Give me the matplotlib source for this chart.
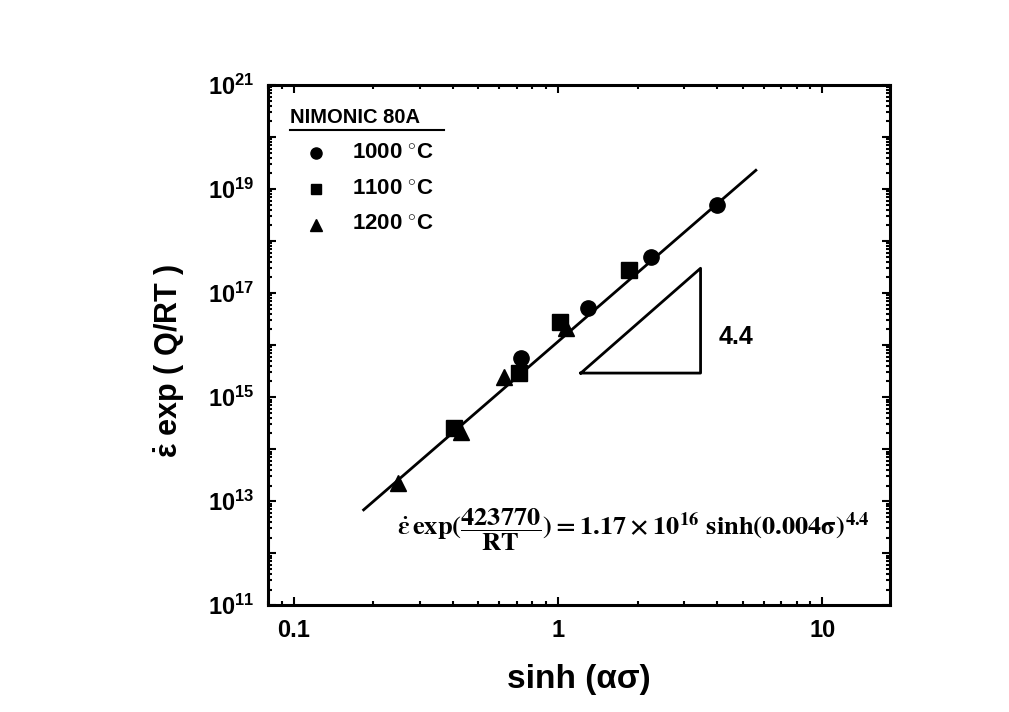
import matplotlib
matplotlib.use('Agg')
import matplotlib.pyplot as plt
import numpy as np
from matplotlib.ticker import LogLocator, NullFormatter, FixedLocator, FixedFormatter

plt.rcParams['font.family'] = ['Liberation Sans', 'DejaVu Sans']
plt.rcParams['font.weight'] = 'bold'
plt.rcParams['mathtext.fontset'] = 'custom'
plt.rcParams['mathtext.rm'] = 'Liberation Sans:bold'
plt.rcParams['mathtext.bf'] = 'Liberation Sans:bold'
plt.rcParams['mathtext.it'] = 'Liberation Sans:bold'

# data
x_1000 = [0.725, 1.30, 2.24, 3.98]
y_1000 = [5.6e15, 5.1e16, 4.9e17, 4.9e18]
x_1100 = [0.405, 0.713, 1.02, 1.85]
y_1100 = [2.5e14, 2.9e15, 2.8e16, 2.8e17]
x_1200 = [0.249, 0.43, 0.625, 1.07]
y_1200 = [2.2e13, 2.1e14, 2.4e15, 2.1e16]

fit_A = 1.17e16
fit_n = 4.4
fit_x = [0.184, 5.6]

# slope triangle corners (sinh, value)
tri_x = [1.22, 3.46, 3.46, 1.22]
tri_y = [2.9e15, 2.9e15, 3.0e17, 2.9e15]

fig = plt.figure(figsize=(10.09, 7.12), dpi=100)
ax = fig.add_axes([0.2656, 0.150, 0.6164, 0.7306])

ax.plot(x_1000, y_1000, 'o', color='black', markersize=11, linestyle='none')
ax.plot(x_1100, y_1100, 's', color='black', markersize=11, linestyle='none')
ax.plot(x_1200, y_1200, '^', color='black', markersize=12, linestyle='none')

xf = np.logspace(np.log10(fit_x[0]), np.log10(fit_x[1]), 50)
ax.plot(xf, fit_A * xf ** fit_n, color='black', linewidth=2)

ax.plot(tri_x, tri_y, color='black', linewidth=2)
ax.text(4.05, 1.45e16, '4.4', fontsize=18, fontweight='bold', va='center')

ax.set_xscale('log')
ax.set_yscale('log')
ax.set_xlim(0.08, 18)
ax.set_ylim(1e11, 1e21)

# y ticks: every decade, labels on odd exponents
ydec = [10.0 ** k for k in range(11, 22)]
ylab = [r'$10^{%d}$' % k if k % 2 == 1 else '' for k in range(11, 22)]
ax.yaxis.set_major_locator(FixedLocator(ydec))
ax.yaxis.set_major_formatter(FixedFormatter(ylab))
ax.yaxis.set_minor_locator(LogLocator(base=10, subs=np.arange(2, 10), numticks=30))
ax.yaxis.set_minor_formatter(NullFormatter())

ax.xaxis.set_major_locator(FixedLocator([0.1, 1, 10]))
ax.xaxis.set_major_formatter(FixedFormatter(['0.1', '1', '10']))
ax.xaxis.set_minor_locator(LogLocator(base=10, subs=np.arange(2, 10), numticks=30))
ax.xaxis.set_minor_formatter(NullFormatter())

ax.tick_params(which='both', direction='in', top=True, right=True, width=1.5)
ax.tick_params(which='major', length=6, labelsize=17, pad=10)
ax.tick_params(which='minor', length=3)
for s in ax.spines.values():
    s.set_linewidth(2.2)

ax.set_xlabel('sinh (ασ)', fontsize=24, fontweight='bold', labelpad=16)
ax.set_ylabel(r'$\dot{\mathrm{\varepsilon}}$ exp ( Q/RT )', fontsize=22, fontweight='bold', labelpad=14)
ax.yaxis.set_label_coords(-0.13, 0.47)

# legend block drawn by hand in axes coordinates
ax.text(0.036, 0.938, 'NIMONIC 80A', transform=ax.transAxes, fontsize=14.5,
        fontweight='bold', va='center')
ax.plot([0.036, 0.283], [0.913, 0.913], transform=ax.transAxes, color='black', linewidth=1.5)
leg_items = [('o', r'1000 $^{\circ}$C', 8), ('s', r'1100 $^{\circ}$C', 7), ('^', r'1200 $^{\circ}$C', 9)]
for i, (m, lab, ms) in enumerate(leg_items):
    yy = 0.869 - i * 0.069
    ax.plot([0.077], [yy], m, color='black', markersize=ms, transform=ax.transAxes)
    ax.text(0.135, yy, lab, transform=ax.transAxes, fontsize=16, fontweight='bold', va='center')

ax.text(0.587, 0.144,
        r'$\mathbf{\dot{\varepsilon}\,exp(\dfrac{423770}{RT}) = 1.17\times10^{16}\ sinh(0.004\sigma)^{4.4}}$',
        transform=ax.transAxes, fontsize=19, ha='center', va='center', math_fontfamily='stix')

fig.savefig('out.png', dpi=100)
